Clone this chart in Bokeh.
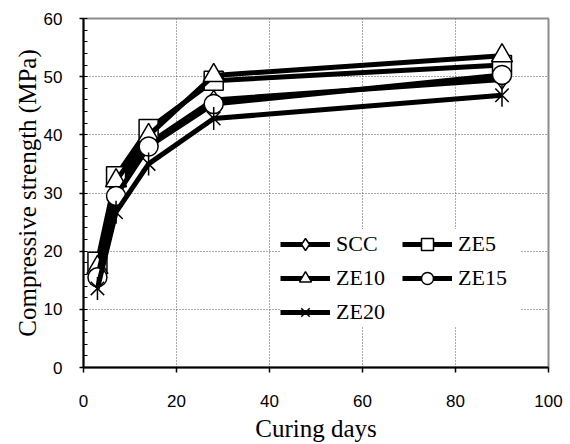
import numpy as np
from bokeh.plotting import figure
from bokeh.models import Legend, LegendItem, FixedTicker, Range1d
from bokeh.embed import file_html
from bokeh.resources import INLINE

# Compressive strength (MPa) versus curing age (days)
days = [3, 7, 14, 28, 90]
scc = [16.0, 31.0, 38.5, 46.0, 49.5]
ze5 = [18.2, 32.9, 41.0, 49.3, 52.0]
ze10 = [17.2, 32.1, 39.9, 50.2, 53.6]
ze15 = [15.5, 29.5, 38.0, 45.3, 50.3]
ze20 = [13.6, 26.7, 35.0, 42.8, 46.8]

x_ticks = [0, 20, 40, 60, 80, 100]
y_ticks = [0, 10, 20, 30, 40, 50, 60]

SERIF = "Liberation Serif"
SANS = "Liberation Sans"

p = figure(width=570, height=444, output_backend="svg", toolbar_location=None,
           x_range=Range1d(0, 100), y_range=Range1d(0, 60),
           min_border_left=83, min_border_right=22,
           min_border_top=18, min_border_bottom=77)

p.outline_line_color = "#8c8c8c"
p.outline_line_width = 2

# grid
for g in (p.xgrid, p.ygrid):
    g.grid_line_color = "#555555"
    g.grid_line_dash = "1 2"
    g.grid_line_width = 1

# axes
p.xaxis.ticker = FixedTicker(ticks=x_ticks)
p.yaxis.ticker = FixedTicker(ticks=y_ticks, minor_ticks=list(range(0, 61, 2)))
for ax in (p.xaxis, p.yaxis):
    ax.axis_line_color = "black"
    ax.axis_line_width = 2
    ax.major_tick_line_color = "black"
    ax.major_tick_line_width = 1.5
    ax.major_label_text_font = SANS
    ax.major_label_text_font_size = "17px"
    ax.major_label_text_color = "black"
    ax.axis_label_text_font = SERIF
    ax.axis_label_text_font_size = "25px"
    ax.axis_label_text_font_style = "normal"
    ax.axis_label_text_color = "black"

p.xaxis.major_tick_in = 0
p.xaxis.major_tick_out = 5
p.xaxis.minor_tick_line_color = None
p.xaxis.major_label_standoff = 22
p.xaxis.axis_label = "Curing days"
p.xaxis.axis_label_standoff = 5

p.yaxis.major_tick_in = 0
p.yaxis.major_tick_out = 4
p.yaxis.minor_tick_in = 4
p.yaxis.minor_tick_out = 0
p.yaxis.minor_tick_line_color = "black"
p.yaxis.minor_tick_line_width = 1
p.yaxis.major_label_standoff = 17
p.yaxis.axis_label = "Compressive strength (MPa)"
p.yaxis.axis_label_standoff = 0

LW = 5
MS = 19   # marker size on the curves
LMS = 13  # marker size in the legend
mk = dict(fill_color="white", line_color="black", line_width=1.5)


def series(ys, marker, size_boost=0):
    """Draw one curve with its markers; return hidden copies for the legend."""
    p.line(days, ys, line_color="black", line_width=LW)
    if marker == "asterisk6":
        p.scatter(days, ys, marker="x", size=MS, line_color="black", line_width=1.5)
        p.scatter(days, ys, marker="dash", size=MS + 4, angle=np.pi / 2,
                  line_color="black", line_width=1.5)
    else:
        p.scatter(days, ys, marker=marker, size=MS + size_boost, **mk)
    # hidden renderers so the legend shows smaller symbols
    lg = [p.line(days, ys, line_color="black", line_width=LW, visible=False)]
    if marker == "asterisk6":
        lg.append(p.scatter(days, ys, marker="x", size=LMS, line_color="black",
                            line_width=1.5, visible=False))
        lg.append(p.scatter(days, ys, marker="dash", size=LMS + 3, angle=np.pi / 2,
                            line_color="black", line_width=1.5, visible=False))
    else:
        lg.append(p.scatter(days, ys, marker=marker, size=LMS + size_boost,
                            visible=False, **mk))
    return lg


r_scc = series(scc, "diamond", 0)
r_ze5 = series(ze5, "square", 0)
r_ze10 = series(ze10, "triangle", 2)
r_ze15 = series(ze15, "circle", 0)
r_ze20 = series(ze20, "asterisk6", 0)

# column-major layout: left column SCC, ZE10, ZE20; right column ZE5, ZE15
items = [
    LegendItem(label="SCC", renderers=r_scc),
    LegendItem(label="ZE10", renderers=r_ze10),
    LegendItem(label="ZE20", renderers=r_ze20),
    LegendItem(label="ZE5", renderers=r_ze5),
    LegendItem(label="ZE15", renderers=r_ze15),
]

legend = Legend(items=items, location=(197, 40), ncols=2,
                background_fill_color="white", background_fill_alpha=1.0,
                border_line_color=None,
                inactive_fill_alpha=0.0,
                label_text_font=SERIF, label_text_font_size="22px",
                label_text_color="black",
                glyph_width=50, glyph_height=30, label_height=30,
                label_width=62, label_standoff=6, spacing=4, padding=4,
                margin=0)
p.add_layout(legend, "center")

open("out.html", "w").write(file_html(p, INLINE))
